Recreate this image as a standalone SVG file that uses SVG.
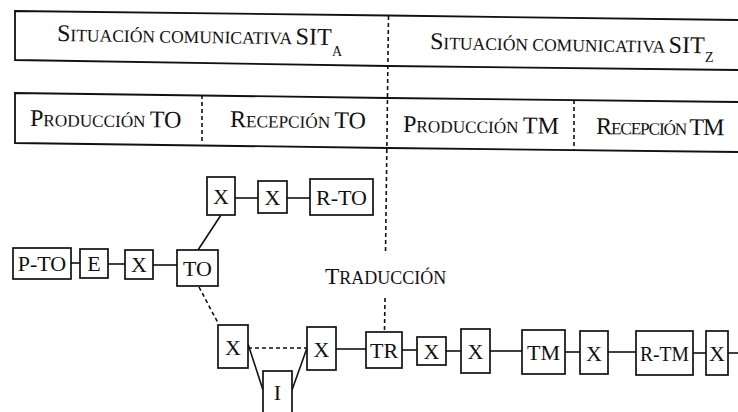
<svg xmlns="http://www.w3.org/2000/svg" width="738" height="412" viewBox="0 0 738 412">
<style>
.frame{fill:none;stroke:#111;stroke-width:1.8}
.box{fill:#fff;stroke:#111;stroke-width:1.7}
.ln{fill:none;stroke:#111;stroke-width:1.6}
.dash{fill:none;stroke:#111;stroke-width:1.6;stroke-dasharray:4 3}
text{font-family:"Liberation Serif","Times New Roman",serif;fill:#111}
.cap{font-size:24px}
.sc{font-size:17.5px}
.cap2{font-size:24px}
.sc2{font-size:17.2px}
.sub{font-size:14px}
.lbl{font-size:22px;text-anchor:middle}
</style>
<rect width="738" height="412" fill="#fff"/>
<g id="header">
<polyline class="frame" points="738,20 388,15.5 15,11 15,60 388,66 738,70"/>
<polyline class="frame" points="738,102 388,98 15,93 15,143 388,148 738,152"/>
<line class="dash" x1="202" y1="95" x2="202" y2="144"/>
<line class="dash" x1="574" y1="100" x2="574" y2="150"/>
<text transform="rotate(0.8 57 41)" x="57" y="41"><tspan class="cap">S</tspan><tspan class="sc">ITUACIÓN COMUNICATIVA </tspan><tspan class="cap">SIT</tspan></text>
<text class="sub" x="332" y="56">A</text>
<text transform="rotate(0.9 430 49)" x="430" y="49"><tspan class="cap">S</tspan><tspan class="sc">ITUACIÓN COMUNICATIVA </tspan><tspan class="cap">SIT</tspan></text>
<text class="sub" x="705" y="62">Z</text>
<text transform="rotate(0.6 30 126)" x="30" y="126"><tspan class="cap2">P</tspan><tspan class="sc2">RODUCCIÓN </tspan><tspan class="cap2">TO</tspan></text>
<text transform="rotate(0.6 230 127)" x="230" y="127"><tspan class="cap2">R</tspan><tspan class="sc2">ECEPCIÓN </tspan><tspan class="cap2">TO</tspan></text>
<text transform="rotate(0.6 403 132)" x="403" y="132"><tspan class="cap2">P</tspan><tspan class="sc2">RODUCCIÓN </tspan><tspan class="cap2">TM</tspan></text>
<text transform="rotate(0.6 596 134)" x="596" y="134" letter-spacing="-1.1"><tspan class="cap2">R</tspan><tspan class="sc2">ECEPCIÓN </tspan><tspan class="cap2">TM</tspan></text>
</g>
<g id="connectors">
<line class="dash" x1="388.5" y1="16" x2="385.5" y2="254"/>
<line class="dash" x1="385" y1="298" x2="384.5" y2="331"/>
<line class="ln" x1="71" y1="263" x2="80" y2="263"/>
<line class="ln" x1="108" y1="264" x2="125" y2="264"/>
<line class="ln" x1="153" y1="265" x2="177" y2="265"/>
<line class="ln" x1="198" y1="250" x2="221" y2="215"/>
<line class="ln" x1="235" y1="198" x2="258" y2="198"/>
<line class="ln" x1="287" y1="198" x2="310" y2="198"/>
<line class="dash" x1="199" y1="287" x2="218" y2="323"/>
<line class="dash" x1="248" y1="348" x2="307" y2="348"/>
<line class="ln" x1="248" y1="344" x2="263" y2="390"/>
<line class="ln" x1="292" y1="390" x2="307" y2="348"/>
<line class="ln" x1="336" y1="349" x2="366" y2="349"/>
<line class="ln" x1="402" y1="350" x2="417" y2="350"/>
<line class="ln" x1="446" y1="351" x2="461" y2="351"/>
<line class="ln" x1="490" y1="351" x2="522" y2="351"/>
<line class="ln" x1="565" y1="352" x2="580" y2="352"/>
<line class="ln" x1="608" y1="352" x2="636" y2="352"/>
<line class="ln" x1="693" y1="353" x2="706" y2="353"/>
<line class="ln" x1="728" y1="353" x2="738" y2="353"/>
</g>
<g id="traduccion"><text x="325" y="284"><tspan style="font-size:23.5px">T</tspan><tspan style="font-size:18px">RADUCCIÓN</tspan></text></g>
<g id="p-to"><rect class="box" x="13" y="248" width="58" height="31"/><text class="lbl" x="42" y="271">P-TO</text></g>
<g id="e"><rect class="box" x="80" y="249" width="28" height="29"/><text class="lbl" x="94" y="271">E</text></g>
<g id="x1"><rect class="box" x="125" y="250" width="28" height="29"/><text class="lbl" x="139" y="272">X</text></g>
<g id="to"><rect class="box" x="177" y="250" width="41" height="36"/><text class="lbl" x="197.5" y="276">TO</text></g>
<g id="xa"><rect class="box" x="207" y="177" width="28" height="38"/><text class="lbl" x="221" y="204">X</text></g>
<g id="xb"><rect class="box" x="258" y="181" width="29" height="32"/><text class="lbl" x="272.5" y="205">X</text></g>
<g id="r-to"><rect class="box" x="310" y="179" width="63" height="36"/><text class="lbl" x="341.5" y="205">R-TO</text></g>
<g id="xc"><rect class="box" x="218" y="325" width="30" height="43"/><text class="lbl" x="233" y="355">X</text></g>
<g id="i"><rect class="box" x="263" y="371" width="29" height="45"/><text class="lbl" x="277.5" y="400">I</text></g>
<g id="xd"><rect class="box" x="307" y="327" width="29" height="43"/><text class="lbl" x="321.5" y="357">X</text></g>
<g id="tr"><rect class="box" x="366" y="332" width="36" height="36"/><text class="lbl" x="384" y="358">TR</text></g>
<g id="xe"><rect class="box" x="417" y="337" width="29" height="28"/><text class="lbl" x="431.5" y="359">X</text></g>
<g id="xf"><rect class="box" x="461" y="329" width="29" height="44"/><text class="lbl" x="475.5" y="359">X</text></g>
<g id="tm"><rect class="box" x="522" y="330" width="43" height="44"/><text class="lbl" x="543.5" y="360">TM</text></g>
<g id="xg"><rect class="box" x="580" y="331" width="28" height="43"/><text class="lbl" x="594" y="361">X</text></g>
<g id="r-tm"><rect class="box" x="636" y="331" width="57" height="44"/><text class="lbl" x="664.5" y="361" textLength="49" lengthAdjust="spacingAndGlyphs">R-TM</text></g>
<g id="xh"><rect class="box" x="706" y="331" width="22" height="44"/><text class="lbl" x="717" y="361">X</text></g>
</svg>
